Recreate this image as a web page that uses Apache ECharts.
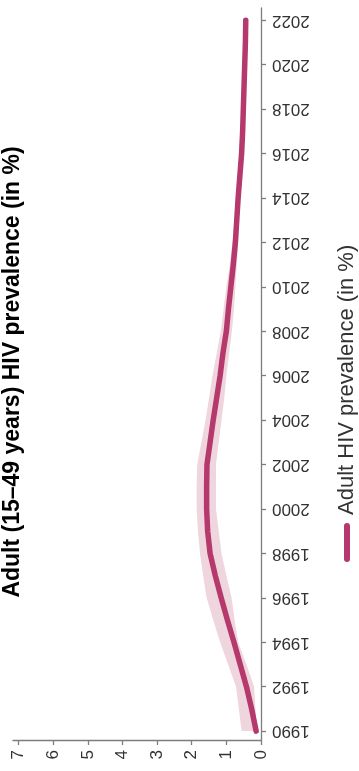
<!DOCTYPE html>
<html>
<head>
<meta charset="utf-8">
<script src="https://cdn.jsdelivr.net/npm/echarts@6/dist/echarts.min.js"></script>
<style>
  html, body { margin: 0; padding: 0; background: #fff; overflow: hidden; }
  #chart { width: 359px; height: 771px; }
</style>
</head>
<body>
<div id="chart"></div>
<script>
// Adult (15–49) HIV prevalence, estimate with uncertainty range, 1990–2022
const years = [1990, 1991, 1992, 1993, 1994, 1995, 1996, 1997, 1998, 1999, 2000,
  2001, 2002, 2003, 2004, 2005, 2006, 2007, 2008, 2009, 2010, 2011,
  2012, 2013, 2014, 2015, 2016, 2017, 2018, 2019, 2020, 2021, 2022];
const prevalence = [0.14, 0.27, 0.42, 0.60, 0.78, 0.97, 1.15, 1.32, 1.47, 1.54, 1.57,
  1.57, 1.56, 1.47, 1.38, 1.28, 1.18, 1.10, 1.00, 0.94, 0.87, 0.80,
  0.74, 0.70, 0.66, 0.61, 0.56, 0.53, 0.51, 0.49, 0.47, 0.45, 0.44];
const lowerBound = [0.12, 0.16, 0.20, 0.42, 0.66, 0.76, 0.85, 1.00, 1.14, 1.22, 1.30,
  1.30, 1.30, 1.22, 1.14, 1.06, 1.00, 0.92, 0.84, 0.78, 0.74, 0.70,
  0.66, 0.64, 0.62, 0.58, 0.53, 0.51, 0.49, 0.47, 0.45, 0.43, 0.42];
const upperBound = [0.56, 0.64, 0.72, 0.95, 1.18, 1.38, 1.57, 1.67, 1.76, 1.82, 1.86,
  1.86, 1.84, 1.72, 1.60, 1.50, 1.40, 1.28, 1.16, 1.08, 1.00, 0.90,
  0.82, 0.76, 0.70, 0.65, 0.59, 0.56, 0.54, 0.52, 0.50, 0.48, 0.47];
const yearTicks = [1990, 1992, 1994, 1996, 1998, 2000, 2002, 2004, 2006, 2008, 2010,
  2012, 2014, 2016, 2018, 2020, 2022];
const valueTicks = [0, 1, 2, 3, 4, 5, 6, 7];

const titleText = 'Adult (15–49 years) HIV prevalence (in %)';
const seriesName = 'Adult HIV prevalence (in %)';

const lineColor = '#b5396c';
const bandColor = '#efd5de';
const axisColor = '#7d7d7d';
const labelColor = '#333333';
const fontFamily = '"Liberation Sans", Arial, sans-serif';

const chart = echarts.init(document.getElementById('chart'), null, { renderer: 'canvas' });

const bandRows = years.map((y, i) => [lowerBound[i], upperBound[i], y]);

chart.setOption({
  animation: false,
  backgroundColor: '#ffffff',
  grid: { left: 13, right: 98, top: 8, bottom: 31, containLabel: false },
  xAxis: {
    type: 'value',
    inverse: true,
    min: 0,
    max: 7.16,
    position: 'bottom',
    splitLine: { show: false },
    axisLine: { show: true, lineStyle: { color: axisColor, width: 1.3 } },
    axisTick: { show: true, length: 5, customValues: valueTicks, lineStyle: { color: axisColor, width: 1.3 } },
    axisLabel: {
      customValues: valueTicks,
      formatter: v => String(v),
      rotate: 90,
      margin: 10,
      color: labelColor,
      fontSize: 17,
      fontFamily: fontFamily
    }
  },
  yAxis: {
    type: 'value',
    position: 'right',
    min: 1989.6,
    max: 2022.55,
    splitLine: { show: false },
    axisLine: { show: true, lineStyle: { color: axisColor, width: 1.3 } },
    axisTick: { show: true, length: 5, customValues: yearTicks, lineStyle: { color: axisColor, width: 1.3 } },
    axisLabel: {
      customValues: yearTicks,
      formatter: v => String(v),
      rotate: 180,
      margin: 11,
      color: labelColor,
      fontSize: 17,
      fontFamily: fontFamily
    }
  },
  series: [
    {
      // uncertainty range drawn as one filled polygon
      type: 'custom',
      name: 'range',
      silent: true,
      z: 1,
      encode: { x: [0, 1], y: 2 },
      data: bandRows,
      renderItem: function (params, api) {
        if (params.dataIndex !== 0) return null;
        const pts = [];
        for (let i = 0; i < bandRows.length; i++) {
          pts.push(api.coord([bandRows[i][1], bandRows[i][2]]));
        }
        for (let i = bandRows.length - 1; i >= 0; i--) {
          pts.push(api.coord([bandRows[i][0], bandRows[i][2]]));
        }
        return { type: 'polygon', shape: { points: pts }, style: { fill: bandColor } };
      }
    },
    {
      type: 'line',
      name: seriesName,
      z: 3,
      showSymbol: false,
      data: years.map((y, i) => [prevalence[i], y]),
      lineStyle: { color: lineColor, width: 5.5, cap: 'round', join: 'round' },
      itemStyle: { color: lineColor }
    }
  ],
  graphic: [
    {
      type: 'text',
      x: 13,
      y: 372,
      rotation: Math.PI / 2,
      style: {
        text: titleText,
        fill: '#000000',
        font: 'bold 23px ' + fontFamily,
        align: 'center',
        verticalAlign: 'middle'
      }
    },
    {
      type: 'group',
      x: 347,
      y: 562,
      rotation: Math.PI / 2,
      children: [
        {
          type: 'line',
          shape: { x1: 3, y1: 0, x2: 36, y2: 0 },
          style: { stroke: lineColor, lineWidth: 6, lineCap: 'round' }
        },
        {
          type: 'text',
          x: 47,
          y: 0,
          style: {
            text: seriesName,
            fill: labelColor,
            font: '22px ' + fontFamily,
            align: 'left',
            verticalAlign: 'middle'
          }
        }
      ]
    }
  ]
});
</script>
</body>
</html>
